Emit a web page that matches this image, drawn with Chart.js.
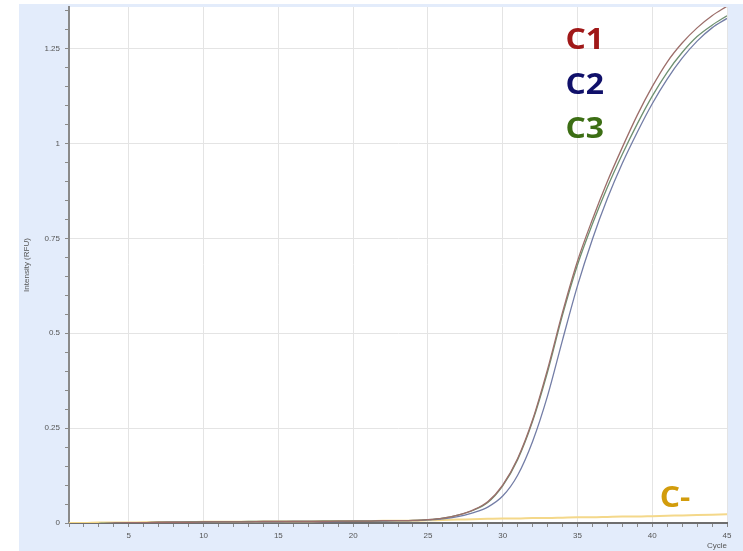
<!DOCTYPE html>
<html>
<head>
<meta charset="utf-8">
<title>Amplification curves</title>
<script src="https://cdn.jsdelivr.net/npm/chart.js@4.4.1/dist/chart.umd.min.js"></script>
<style>
    html, body { margin: 0; padding: 0; background: #ffffff; }
    .panel {
        position: absolute;
        left: 19px;
        top: 4px;
        width: 724px;
        height: 547px;
        background: #e3ecfb;
    }
    .panel canvas { display: block; }
</style>
</head>
<body>
<div class="panel">
    <canvas id="pcrChart" width="724" height="547"></canvas>
</div>
<script>
// Cycle numbers (x axis)
const cycles = [
    1, 2, 3, 4, 5, 6, 7, 8, 9, 10,
    11, 12, 13, 14, 15, 16, 17, 18, 19, 20,
    21, 22, 23, 24, 25, 26, 27, 28, 29, 30,
    31, 32, 33, 34, 35, 36, 37, 38, 39, 40,
    41, 42, 43, 44, 45
];

// Fluorescence per cycle (RFU)
const c1Values = [
    -0.004, -0.003, -0.002, 0.000, 0.001, 0.001, 0.002, 0.002, 0.002, 0.003,
    0.003, 0.003, 0.003, 0.004, 0.004, 0.004, 0.004, 0.004, 0.005, 0.005,
    0.005, 0.006, 0.006, 0.007, 0.009, 0.013, 0.021, 0.034, 0.056, 0.100,
    0.170, 0.272, 0.405, 0.555, 0.690, 0.800, 0.900, 0.990, 1.075, 1.150,
    1.215, 1.265, 1.305, 1.337, 1.362
];
const c2Values = [
    -0.005, -0.004, -0.003, -0.001, 0.000, 0.001, 0.001, 0.002, 0.002, 0.002,
    0.003, 0.003, 0.003, 0.003, 0.003, 0.004, 0.004, 0.004, 0.004, 0.005,
    0.005, 0.005, 0.006, 0.006, 0.008, 0.011, 0.017, 0.027, 0.042, 0.071,
    0.126, 0.215, 0.335, 0.482, 0.625, 0.748, 0.855, 0.948, 1.030, 1.105,
    1.170, 1.225, 1.270, 1.305, 1.330
];
const c3Values = [
    -0.003, -0.003, -0.001, 0.000, 0.001, 0.001, 0.002, 0.002, 0.003, 0.003,
    0.003, 0.003, 0.004, 0.004, 0.004, 0.004, 0.004, 0.005, 0.005, 0.005,
    0.005, 0.006, 0.006, 0.007, 0.009, 0.013, 0.021, 0.033, 0.054, 0.098,
    0.167, 0.268, 0.398, 0.548, 0.680, 0.788, 0.885, 0.972, 1.052, 1.125,
    1.188, 1.240, 1.282, 1.312, 1.337
];
const negValues = [
    0.000, 0.000, 0.001, 0.001, 0.001, 0.002, 0.002, 0.002, 0.002, 0.003,
    0.003, 0.003, 0.003, 0.004, 0.004, 0.004, 0.004, 0.005, 0.005, 0.005,
    0.005, 0.006, 0.006, 0.006, 0.007, 0.008, 0.009, 0.010, 0.011, 0.012,
    0.012, 0.013, 0.013, 0.014, 0.015, 0.015, 0.016, 0.017, 0.017, 0.018,
    0.019, 0.020, 0.021, 0.022, 0.023
];

// Axis ticks
const xLabelTicks = [5, 10, 15, 20, 25, 30, 35, 40, 45];
const yLabelTicks = [0, 0.25, 0.5, 0.75, 1, 1.25];

// Sample names written next to the curves (cycle, RFU of text baseline)
const sampleNames = ['C1', 'C2', 'C3', 'C-'];
const nameColors = ['#a01818', '#10106a', '#3c6e14', '#d29c0c'];
const nameCycles = [34.2, 34.2, 34.2, 40.5];
const nameLevels = [1.248, 1.13, 1.014, 0.043];

function points(values) {
    return values.map((v, i) => ({ x: cycles[i], y: v }));
}

function isLabelTick(list, value) {
    return list.some(t => Math.abs(t - value) < 1e-6);
}

// White plotting area on top of the blue panel
const plotBackground = {
    id: 'plotBackground',
    beforeDraw(chart) {
        const { ctx, chartArea } = chart;
        ctx.save();
        ctx.fillStyle = '#ffffff';
        ctx.fillRect(chartArea.left, chartArea.top, chartArea.right - chartArea.left, chartArea.bottom - chartArea.top);
        ctx.restore();
    }
};

// Big coloured sample names
const sampleTags = {
    id: 'sampleTags',
    afterDatasetsDraw(chart) {
        const { ctx, scales } = chart;
        ctx.save();
        ctx.font = 'bold 29px "Open Sans", sans-serif';
        ctx.textBaseline = 'alphabetic';
        ctx.textAlign = 'left';
        sampleNames.forEach((name, i) => {
            const px = scales.x.getPixelForValue(nameCycles[i]);
            const py = scales.y.getPixelForValue(nameLevels[i]);
            ctx.save();
            ctx.translate(px, py);
            ctx.scale(1.1, 1);
            ctx.fillStyle = nameColors[i];
            ctx.fillText(name, 0, 0);
            ctx.restore();
        });
        ctx.restore();
    }
};

document.addEventListener('DOMContentLoaded', function() {
    const ctx = document.getElementById('pcrChart').getContext('2d');

    new Chart(ctx, {
        type: 'line',
        data: {
            datasets: [
                { label: 'C1', data: points(c1Values), borderColor: '#9c6e6a' },
                { label: 'C3', data: points(c3Values), borderColor: '#6e9070' },
                { label: 'C2', data: points(c2Values), borderColor: '#737da6' },
                { label: 'C-', data: points(negValues), borderColor: '#f4d88a', borderWidth: 2 }
            ]
        },
        options: {
            responsive: false,
            animation: false,
            devicePixelRatio: 1,
            layout: { padding: { top: 3, right: 16, left: 0, bottom: 0 } },
            elements: {
                point: { radius: 0 },
                line: { borderWidth: 1.3, cubicInterpolationMode: 'monotone', fill: false }
            },
            plugins: {
                legend: { display: false },
                tooltip: { enabled: false }
            },
            scales: {
                x: {
                    type: 'linear',
                    min: 1,
                    max: 45,
                    afterFit(scale) { scale.height = 28; },
                    border: { color: '#6e6e6e', width: 2 },
                    grid: {
                        color: c => isLabelTick(xLabelTicks, c.tick.value) ? '#e4e4e4' : 'rgba(0,0,0,0)',
                        tickColor: '#8a8a8a',
                        tickLength: 4,
                        lineWidth: 1
                    },
                    ticks: {
                        stepSize: 1,
                        autoSkip: false,
                        maxRotation: 0,
                        padding: 4,
                        color: '#555555',
                        font: { family: '"Liberation Sans", Arial, sans-serif', size: 8 },
                        callback: v => isLabelTick(xLabelTicks, v) ? String(v) : ''
                    },
                    title: {
                        display: true,
                        text: 'Cycle',
                        align: 'end',
                        color: '#555555',
                        padding: { top: 0, bottom: 0 },
                        font: { family: '"Liberation Sans", Arial, sans-serif', size: 8 }
                    }
                },
                y: {
                    min: 0,
                    max: 1.36,
                    afterFit(scale) {
                        scale.width = 50;
                        // keep the plot flush with the top of the panel
                        scale.paddingTop = 0;
                        scale.paddingBottom = 0;
                    },
                    border: { color: '#8a8a8a', width: 2 },
                    grid: {
                        color: c => isLabelTick(yLabelTicks, c.tick.value) ? '#e4e4e4' : 'rgba(0,0,0,0)',
                        tickColor: '#8a8a8a',
                        tickLength: 4,
                        lineWidth: 1
                    },
                    ticks: {
                        stepSize: 0.05,
                        includeBounds: false,
                        autoSkip: false,
                        padding: 5,
                        color: '#555555',
                        font: { family: '"Liberation Sans", Arial, sans-serif', size: 8 },
                        callback: v => isLabelTick(yLabelTicks, v) ? String(v) : ''
                    },
                    title: {
                        display: true,
                        text: 'Intensity (RFU)',
                        color: '#555555',
                        padding: { top: 3, bottom: 0 },
                        font: { family: '"Liberation Sans", Arial, sans-serif', size: 8 }
                    }
                }
            }
        },
        plugins: [plotBackground, sampleTags]
    });
});
</script>
</body>
</html>
